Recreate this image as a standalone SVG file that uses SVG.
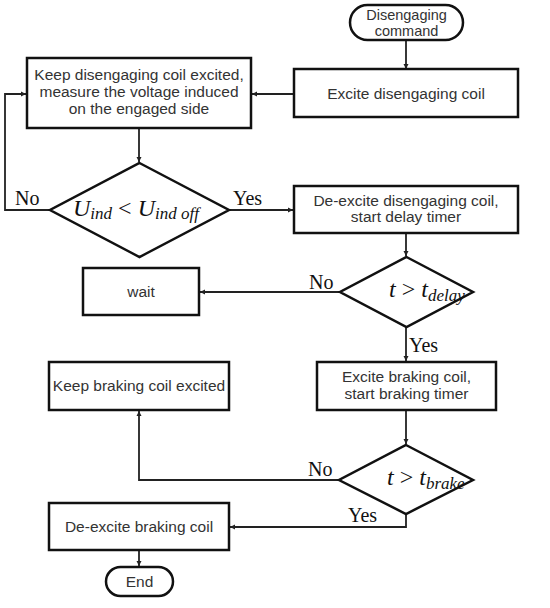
<svg xmlns="http://www.w3.org/2000/svg" width="550" height="608" viewBox="0 0 550 608">
<style>
.box{fill:#fff;stroke:#111;stroke-width:2.5}
.t{font-family:"Liberation Sans",Arial,sans-serif;font-size:15.5px;fill:#333;text-anchor:middle}
.lbl{font-family:"Liberation Serif","Times New Roman",serif;font-size:20px;fill:#111}
.m{font-family:"Liberation Serif","Times New Roman",serif;font-style:italic;font-size:24px;fill:#111}
.c{fill:none;stroke:#222;stroke-width:1.8}
</style>
<defs>
<marker id="a" markerWidth="6" markerHeight="6" refX="5" refY="3" orient="auto" markerUnits="userSpaceOnUse">
<path d="M0,0.5 L5,3 L0,5.5 Z" fill="#222"/>
</marker>
</defs>
<rect width="550" height="608" fill="#fff"/>
<g id="connectors">
<path class="c" d="M406,40 V69" marker-end="url(#a)"/>
<path class="c" d="M294,94 H252" marker-end="url(#a)"/>
<path class="c" d="M139,128 V162" marker-end="url(#a)"/>
<path class="c" d="M50,210 H5 V94 H26" marker-end="url(#a)"/>
<path class="c" d="M229,210 H293" marker-end="url(#a)"/>
<path class="c" d="M406,233 V256" marker-end="url(#a)"/>
<path class="c" d="M340,292 H200" marker-end="url(#a)"/>
<path class="c" d="M406,327 V361" marker-end="url(#a)"/>
<path class="c" d="M406,410 V444" marker-end="url(#a)"/>
<path class="c" d="M339,480 H139 V411" marker-end="url(#a)"/>
<path class="c" d="M406,514 V527 H230" marker-end="url(#a)"/>
<path class="c" d="M139,550 V566" marker-end="url(#a)"/>
<text class="lbl" x="15" y="205">No</text>
<text class="lbl" x="233" y="205">Yes</text>
<text class="lbl" x="309" y="289">No</text>
<text class="lbl" x="409" y="352">Yes</text>
<text class="lbl" x="308" y="476">No</text>
<text class="lbl" x="348" y="522">Yes</text>
</g>
<g id="start">
<rect class="box" x="350" y="5" width="113" height="35" rx="17.5"/>
<text class="t" x="406.5" y="20" style="font-size:14.5px">Disengaging</text>
<text class="t" x="406.5" y="36" style="font-size:14.5px">command</text>
</g>
<g id="excite-dis">
<rect class="box" x="294" y="69" width="224" height="48"/>
<text class="t" x="406" y="99">Excite disengaging coil</text>
</g>
<g id="keep-dis">
<rect class="box" x="27" y="58" width="224" height="70"/>
<text class="t" x="139" y="80">Keep disengaging coil excited,</text>
<text class="t" x="139" y="97">measure the voltage induced</text>
<text class="t" x="139" y="114">on the engaged side</text>
</g>
<g id="dec1">
<polygon class="box" points="139.5,163 229,210 139.5,257 50,210"/>
<text class="m" x="73" y="216">U<tspan font-size="17" dy="3">ind</tspan><tspan font-style="normal" dy="-3"> &lt; </tspan>U<tspan font-size="17" dy="3">ind off</tspan></text>
</g>
<g id="deexcite-dis">
<rect class="box" x="294" y="186" width="224" height="47"/>
<text class="t" x="406" y="206">De-excite disengaging coil,</text>
<text class="t" x="406" y="222">start delay timer</text>
</g>
<g id="dec2">
<polygon class="box" points="406.5,257 473,292 406.5,327 340,292"/>
<text class="m" x="389" y="297">t<tspan font-style="normal"> &gt; </tspan>t<tspan font-size="17" dy="4">delay</tspan></text>
</g>
<g id="wait">
<rect class="box" x="83" y="268" width="116" height="47"/>
<text class="t" x="141" y="297">wait</text>
</g>
<g id="excite-brake">
<rect class="box" x="317" y="362" width="179" height="48"/>
<text class="t" x="406.5" y="382">Excite braking coil,</text>
<text class="t" x="406.5" y="399">start braking timer</text>
</g>
<g id="keep-brake">
<rect class="box" x="49" y="362" width="180" height="48"/>
<text class="t" x="139" y="391">Keep braking coil excited</text>
</g>
<g id="dec3">
<polygon class="box" points="406,445 473,480 406,514 339,480"/>
<text class="m" x="387" y="485">t<tspan font-style="normal"> &gt; </tspan>t<tspan font-size="17" dy="4">brake</tspan></text>
</g>
<g id="deexcite-brake">
<rect class="box" x="49" y="503" width="180" height="47"/>
<text class="t" x="139" y="532">De-excite braking coil</text>
</g>
<g id="end">
<rect class="box" x="106" y="567" width="67" height="29" rx="14.5"/>
<text class="t" x="139.5" y="587">End</text>
</g>
</svg>
